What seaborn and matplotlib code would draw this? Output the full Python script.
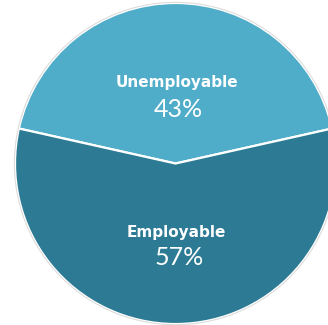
import matplotlib
matplotlib.use("Agg")
import matplotlib.pyplot as plt
import seaborn as sns
from matplotlib.patches import Circle

sns.set_theme(style="white")
plt.rcParams["font.family"] = ["Lato", "DejaVu Sans"]

# Share of candidates by employability
categories = ["Unemployable", "Employable"]
shares = [43, 57]
pct_labels = ["43%", "57%"]
colors = ["#50ADC9", "#2C7A93"]

fig = plt.figure(figsize=(3.28, 3.25), dpi=100)
ax = fig.add_axes([0, 0, 1, 1])

# Unemployable wedge centred at the top of the circle
start = 90 - shares[0] / sum(shares) * 360 / 2
ax.pie(shares, colors=colors, startangle=start, counterclock=True,
       radius=1.0, center=(0, 0),
       wedgeprops=dict(edgecolor="white", linewidth=1.6))
ax.add_patch(Circle((0, 0), 1.004, fill=False, edgecolor="#dcdcdc", linewidth=0.8))

name_y = [0.477, -0.456]
pct_y = [0.290, -0.632]
for name, pct, ny, py in zip(categories, pct_labels, name_y, pct_y):
    ax.text(0.008, ny, name, ha="center", va="baseline", color="white",
            fontsize=11, fontweight="bold", family="DejaVu Sans")
    ax.text(0.02, py, pct, ha="center", va="baseline", color="white",
            fontsize=18, fontweight="normal", family="Lato")

ax.set_xlim(-1.0935, 0.950)
ax.set_ylim(-1.006, 1.0187)
ax.set_aspect("auto")
ax.axis("off")

fig.savefig("out.png", dpi=100, facecolor="white")
